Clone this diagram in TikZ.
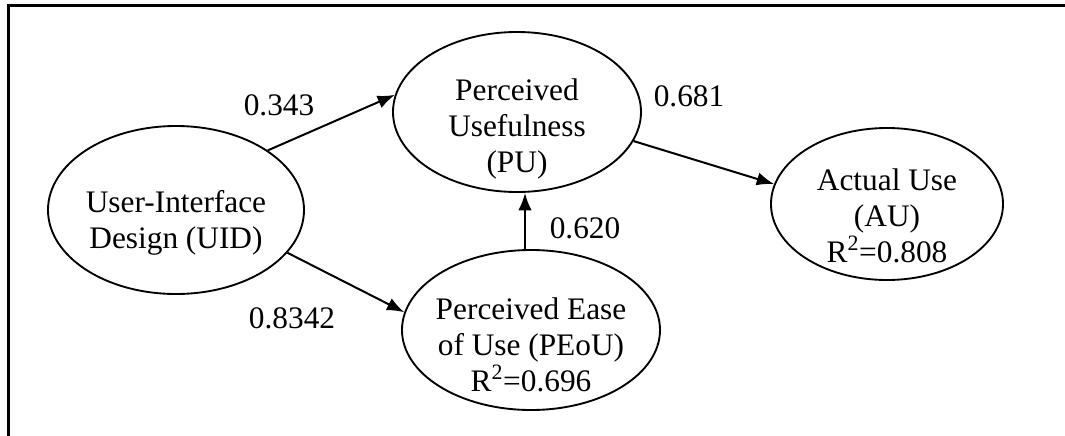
\documentclass[tikz,border=0pt]{standalone}
\usepackage{fontspec}
\setmainfont{Liberation Serif}
\usetikzlibrary{positioning, arrows.meta, shapes.geometric}
\tikzstyle{arrow} = [line width=1.5pt,-{Latex[length=13pt,width=10pt]}]

\begin{document}
\begin{tikzpicture}[x=0.75pt,y=-0.75pt]
    \tikzstyle{every node}=[font=\fontsize{23.5}{27}\selectfont]
    \tikzstyle{construct} = [ellipse, draw=black, line width=1.4pt, inner sep=0pt]
    \tikzstyle{inside} = [align=center, yshift=-9pt]
    \tikzstyle{coef} = [draw=none]

    \useasboundingbox (0,0) rectangle (1065,436);
    \draw[line width=2.3pt] (8.3,436) -- (8.3,5.8) -- (1065,5.8);

    \node[construct, minimum width=192pt, minimum height=126pt,
          label={[inside, yshift=-1pt]center:User-Interface\\Design (UID)}] (uid) at (176,210) {};
    \node[construct, minimum width=186pt, minimum height=120pt,
          label={[inside, yshift=-3.5pt]center:Perceived\\Usefulness\\(PU)}] (pu) at (517,112) {};
    \node[construct, minimum width=193.5pt, minimum height=120pt,
          label={[inside, yshift=-2pt]center:Perceived Ease\\of Use (PEoU)\\R\textsuperscript{2}=0.696}] (peou) at (531,330) {};
    \node[construct, minimum width=174pt, minimum height=114pt,
          label={[inside]center:Actual Use\\(AU)\\R\textsuperscript{2}=0.808}] (au) at (887,204) {};

    \coordinate (vline) at (525,0);

    \draw[arrow] (uid.33) -- (pu.172);
    \draw[arrow] (uid.-21) -- (peou.172);
    \draw[arrow] (peou.north -| vline) -- (pu.south -| vline);
    \draw[arrow] (pu.-14) -- (au.170);

    \node[coef](c1) at (279,105) {0.343};
    \node[coef](c2) at (292,318) {0.8342};
    \node[coef](c3) at (585,228) {0.620};
    \node[coef](c4) at (689,96) {0.681};
\end{tikzpicture}
\end{document}
